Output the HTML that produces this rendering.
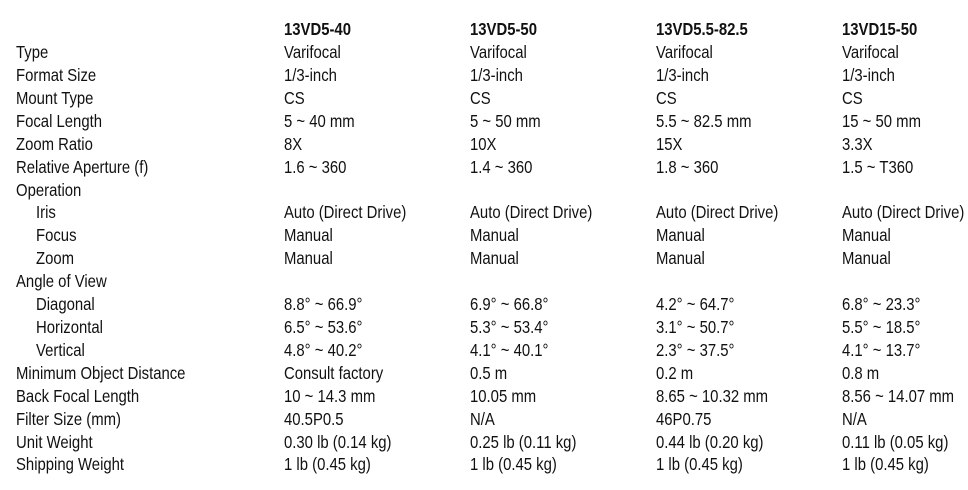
<!DOCTYPE html>
<html><head><meta charset="utf-8"><style>
html,body{margin:0;padding:0;background:#fff;}
body{width:968px;height:490px;position:relative;overflow:hidden;font-family:"Liberation Sans",sans-serif;font-size:17.5px;color:#111;}
.r{position:absolute;left:0;width:968px;height:23px;line-height:23px;white-space:nowrap;}
.r span{position:absolute;top:0;transform:scaleX(0.85);transform-origin:0 50%;}
.a{left:16px}.i{left:36px}.c1{left:284px}.c2{left:470px}.c3{left:656px}.c4{left:842px}
.h{font-weight:bold;}
</style></head><body>
<div class="r h" style="top:18px"><span class="c1">13VD5-40</span><span class="c2">13VD5-50</span><span class="c3">13VD5.5-82.5</span><span class="c4">13VD15-50</span></div>
<div class="r" style="top:41px"><span class="a">Type</span><span class="c1">Varifocal</span><span class="c2">Varifocal</span><span class="c3">Varifocal</span><span class="c4">Varifocal</span></div>
<div class="r" style="top:64px"><span class="a">Format Size</span><span class="c1">1/3-inch</span><span class="c2">1/3-inch</span><span class="c3">1/3-inch</span><span class="c4">1/3-inch</span></div>
<div class="r" style="top:87px"><span class="a">Mount Type</span><span class="c1">CS</span><span class="c2">CS</span><span class="c3">CS</span><span class="c4">CS</span></div>
<div class="r" style="top:110px"><span class="a">Focal Length</span><span class="c1">5 ~ 40 mm</span><span class="c2">5 ~ 50 mm</span><span class="c3">5.5 ~ 82.5 mm</span><span class="c4">15 ~ 50 mm</span></div>
<div class="r" style="top:133px"><span class="a">Zoom Ratio</span><span class="c1">8X</span><span class="c2">10X</span><span class="c3">15X</span><span class="c4">3.3X</span></div>
<div class="r" style="top:156px"><span class="a">Relative Aperture (f)</span><span class="c1">1.6 ~ 360</span><span class="c2">1.4 ~ 360</span><span class="c3">1.8 ~ 360</span><span class="c4">1.5 ~ T360</span></div>
<div class="r" style="top:179px"><span class="a">Operation</span></div>
<div class="r" style="top:201px"><span class="i">Iris</span><span class="c1">Auto (Direct Drive)</span><span class="c2">Auto (Direct Drive)</span><span class="c3">Auto (Direct Drive)</span><span class="c4">Auto (Direct Drive)</span></div>
<div class="r" style="top:224px"><span class="i">Focus</span><span class="c1">Manual</span><span class="c2">Manual</span><span class="c3">Manual</span><span class="c4">Manual</span></div>
<div class="r" style="top:247px"><span class="i">Zoom</span><span class="c1">Manual</span><span class="c2">Manual</span><span class="c3">Manual</span><span class="c4">Manual</span></div>
<div class="r" style="top:270px"><span class="a">Angle of View</span></div>
<div class="r" style="top:293px"><span class="i">Diagonal</span><span class="c1">8.8° ~ 66.9°</span><span class="c2">6.9° ~ 66.8°</span><span class="c3">4.2° ~ 64.7°</span><span class="c4">6.8° ~ 23.3°</span></div>
<div class="r" style="top:316px"><span class="i">Horizontal</span><span class="c1">6.5° ~ 53.6°</span><span class="c2">5.3° ~ 53.4°</span><span class="c3">3.1° ~ 50.7°</span><span class="c4">5.5° ~ 18.5°</span></div>
<div class="r" style="top:339px"><span class="i">Vertical</span><span class="c1">4.8° ~ 40.2°</span><span class="c2">4.1° ~ 40.1°</span><span class="c3">2.3° ~ 37.5°</span><span class="c4">4.1° ~ 13.7°</span></div>
<div class="r" style="top:362px"><span class="a">Minimum Object Distance</span><span class="c1">Consult factory</span><span class="c2">0.5 m</span><span class="c3">0.2 m</span><span class="c4">0.8 m</span></div>
<div class="r" style="top:385px"><span class="a">Back Focal Length</span><span class="c1">10 ~ 14.3 mm</span><span class="c2">10.05 mm</span><span class="c3">8.65 ~ 10.32 mm</span><span class="c4">8.56 ~ 14.07 mm</span></div>
<div class="r" style="top:408px"><span class="a">Filter Size (mm)</span><span class="c1">40.5P0.5</span><span class="c2">N/A</span><span class="c3">46P0.75</span><span class="c4">N/A</span></div>
<div class="r" style="top:431px"><span class="a">Unit Weight</span><span class="c1">0.30 lb (0.14 kg)</span><span class="c2">0.25 lb (0.11 kg)</span><span class="c3">0.44 lb (0.20 kg)</span><span class="c4">0.11 lb (0.05 kg)</span></div>
<div class="r" style="top:453px"><span class="a">Shipping Weight</span><span class="c1">1 lb (0.45 kg)</span><span class="c2">1 lb (0.45 kg)</span><span class="c3">1 lb (0.45 kg)</span><span class="c4">1 lb (0.45 kg)</span></div>
</body></html>
